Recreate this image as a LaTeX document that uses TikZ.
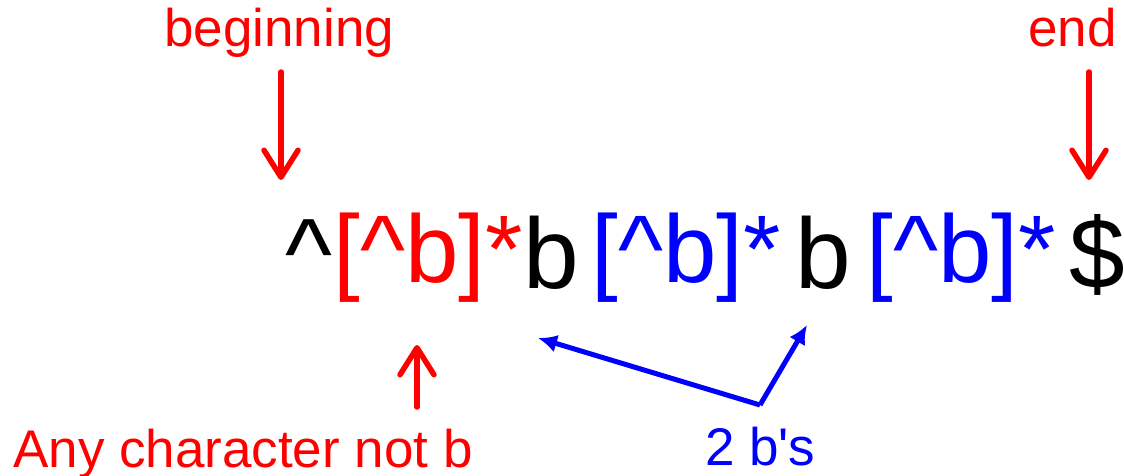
\documentclass[tikz,border=0pt]{standalone}
\usepackage{fontspec}
\setmainfont{Liberation Sans}[Ligatures=TeXOff]
\usetikzlibrary{arrows.meta}
\definecolor{myred}{RGB}{255,0,0}
\definecolor{myblue}{RGB}{0,0,255}
\tikzset{
  lbl/.style={inner sep=0pt, anchor=base west, font=\fontsize{53}{60}\selectfont},
  expr/.style={inner sep=0pt, anchor=base west, font=\fontsize{100}{110}\selectfont},
  cexpr/.style={inner sep=0pt, anchor=base west, font=\fontsize{96}{106}\selectfont},
  redarrow/.style={draw=myred, line width=5.5pt, line cap=round,
    -{Straight Barb[length=27pt,width=34pt,line width=5.5pt,round]}},
  bluearrow/.style={draw=myblue, line width=5pt,
    -{Latex[length=19pt,width=18pt]}},
}
\begin{document}
\begin{tikzpicture}[x=1pt,y=-1pt]
\useasboundingbox (0,0) rectangle (1124,476);
% labels
\node[lbl, text=myred] (beg) at (164,47) {beginning};
\node[lbl, text=myred] (end) at (1028,47) {end};
\node[lbl, text=myred] (any) at (13,467) {Any character not b};
\node[lbl, text=myblue] (two) at (705,465) {2 b's};
% expression
\node[expr] (caret) at (285,288) {\char`\^};
\node[cexpr, text=myred] (cls1) at (333.5,282) {[\char`\^b]*};
\node[expr] (b1) at (523,288) {b};
\node[cexpr, text=myblue] (cls2) at (591.5,282) {[\char`\^b]*};
\node[expr] (b2) at (795,288) {b};
\node[cexpr, text=myblue] (cls3) at (866.5,282) {[\char`\^b]*};
\node[expr] (dollar) at (1069.5,288) {\$};
% connector end points
\coordinate (begtail) at (281,72);
\coordinate (begtip) at (281,180);
\coordinate (endtail) at (1089,72);
\coordinate (endtip) at (1089,180);
\coordinate (anytail) at (417,407);
\coordinate (anytip) at (417,345);
\coordinate (join) at (760,405);
\coordinate (b1tip) at (538,338);
\coordinate (b2tip) at (807,325);
% arrows
\draw[redarrow] (begtail) -- (begtip);
\draw[redarrow] (endtail) -- (endtip);
\draw[redarrow] (anytail) -- (anytip);
\draw[bluearrow] (join) -- (b1tip);
\draw[bluearrow] (join) -- (b2tip);
\end{tikzpicture}
\end{document}
